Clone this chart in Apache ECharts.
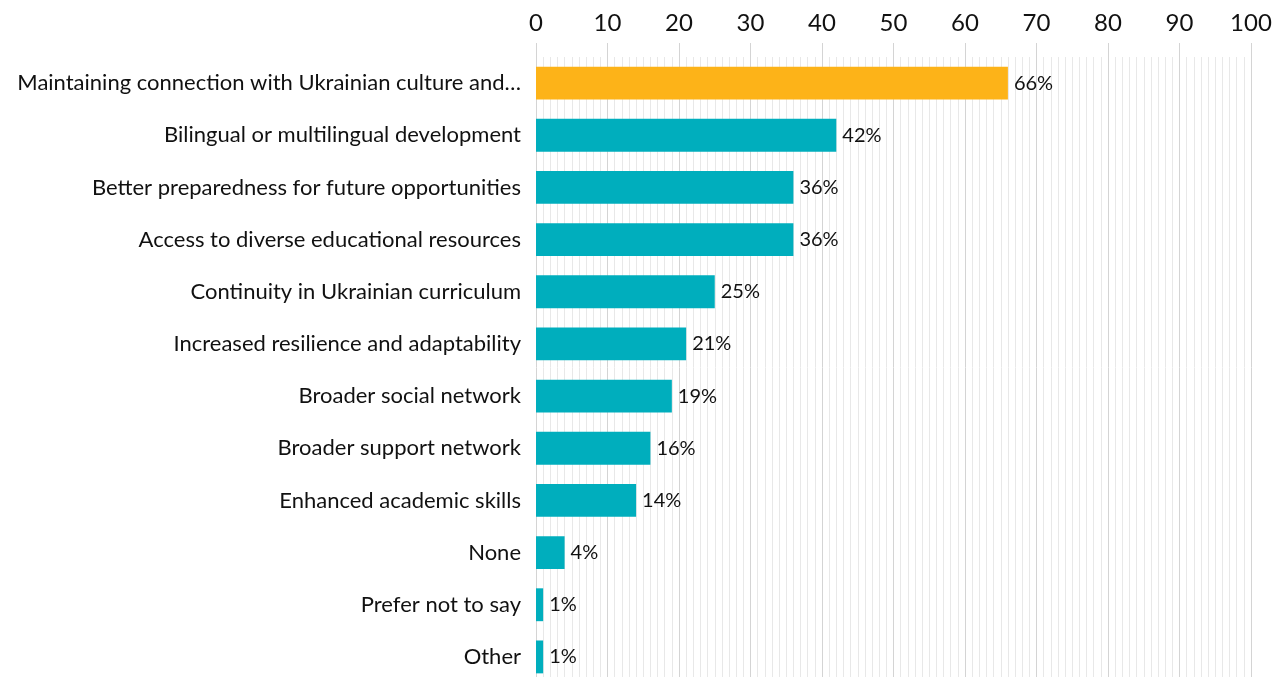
<!DOCTYPE html>
<html>
<head>
<meta charset="utf-8">
<script src="https://cdn.jsdelivr.net/npm/echarts@6/dist/echarts.min.js"></script>
<style>
  html, body { margin: 0; padding: 0; background: #fff; }
  #chart { width: 1277px; height: 677px; }
</style>
</head>
<body>
<div id="chart"></div>
<script>
// Reported benefits, share of respondents (%)
const categories = [
  'Maintaining connection with Ukrainian culture and…',
  'Bilingual or multilingual development',
  'Better preparedness for future opportunities',
  'Access to diverse educational resources',
  'Continuity in Ukrainian curriculum',
  'Increased resilience and adaptability',
  'Broader social network',
  'Broader support network',
  'Enhanced academic skills',
  'None',
  'Prefer not to say',
  'Other'
];
const values = [66, 42, 36, 36, 25, 21, 19, 16, 14, 4, 1, 1];
const highlightIndex = 0;

const FONT = 'Lato, "Open Sans", sans-serif';
const chart = echarts.init(document.getElementById('chart'));

chart.setOption({
  animation: false,
  // plot area runs slightly past the bottom edge of the canvas
  grid: { left: 536, right: 26, top: 57, height: 626, containLabel: false, outerBoundsMode: 'none' },
  xAxis: {
    type: 'value',
    position: 'top',
    min: 0,
    max: 100,
    interval: 10,
    axisLine: { show: false },
    axisTick: { show: true, inside: false, length: 14, lineStyle: { color: '#d4d4d4', width: 1 } },
    axisLabel: { fontFamily: FONT, fontSize: 24, color: '#111', margin: 22 },
    splitLine: { show: true, lineStyle: { color: '#d4d4d4', width: 1 } },
    minorTick: { show: false, splitNumber: 10 },
    minorSplitLine: { show: true, lineStyle: { color: '#e8e8e8', width: 1 } }
  },
  yAxis: {
    type: 'category',
    inverse: true,
    data: categories,
    axisLine: { show: false },
    axisTick: { show: false },
    axisLabel: { fontFamily: FONT, fontSize: 22, color: '#111', margin: 15, padding: [6, 0, 0, 0] }
  },
  series: [{
    type: 'bar',
    data: values.map((v, i) => ({
      value: v,
      itemStyle: { color: i === highlightIndex ? '#FDB318' : '#00AEBD' }
    })),
    barWidth: '63%',
    label: {
      show: true,
      position: 'right',
      distance: 6,
      padding: [6, 0, 0, 0],
      formatter: p => p.value + '%',
      fontFamily: FONT,
      fontSize: 20,
      color: '#111'
    }
  }]
});
</script>
</body>
</html>
